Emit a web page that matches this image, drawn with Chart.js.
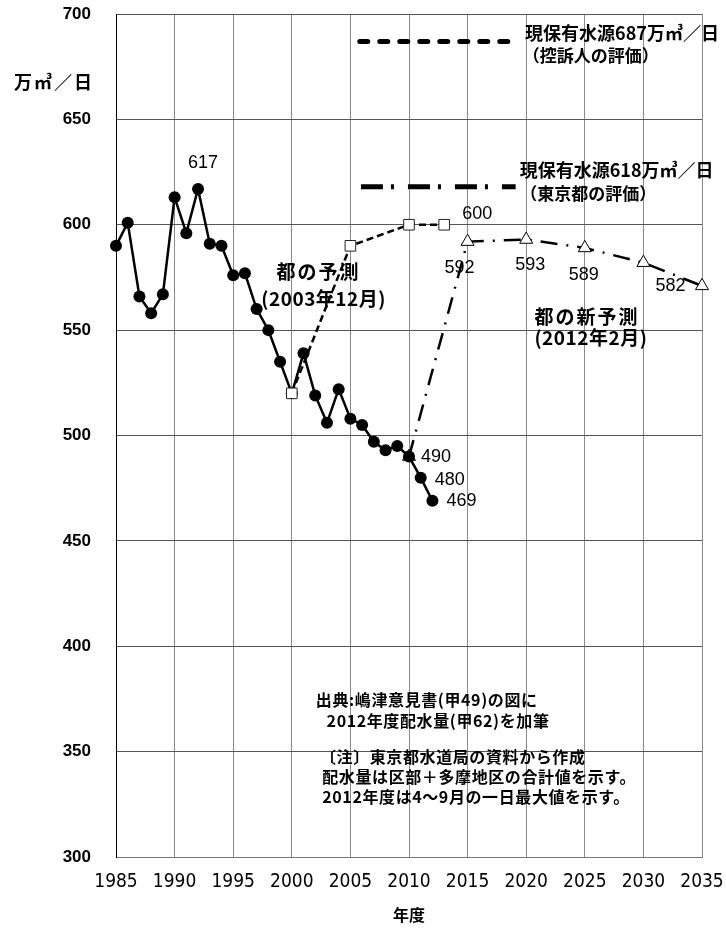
<!DOCTYPE html>
<html lang="ja">
<head>
<meta charset="utf-8">
<script src="https://cdn.jsdelivr.net/npm/chart.js@4.4.1/dist/chart.umd.min.js"></script>
<style>
  body { margin: 0; background: #fff; }
</style>
</head>
<body>
<canvas id="grafico" width="726" height="933"></canvas>
<script>
/* Datos */
const years = [1985, 1986, 1987, 1988, 1989, 1990, 1991, 1992, 1993, 1994,
  1995, 1996, 1997, 1998, 1999, 2000, 2001, 2002, 2003, 2004,
  2005, 2006, 2007, 2008, 2009, 2010, 2011, 2012];
const supply = [590, 601, 566, 558, 567, 613, 596, 617, 591, 590,
  576, 577, 560, 550, 535, 520, 539, 519, 506, 522,
  508, 505, 497, 493, 495, 490, 480, 469];

const forecastYears2003 = [2000, 2005, 2010, 2013];
const forecast2003 = [520, 590, 600, 600];

const forecastYears2012 = [2010, 2015, 2020, 2025, 2030, 2035];
const forecast2012 = [490, 592, 593, 589, 582, 571];

const appellantYears = [2005.8, 2019.4];
const appellantSource = [687, 687];
const tokyoYears = [2005.9, 2019.1];
const tokyoSource = [618, 618];

const xTicks = [1985, 1990, 1995, 2000, 2005, 2010, 2015, 2020, 2025, 2030, 2035];
const yTicks = [300, 350, 400, 450, 500, 550, 600, 650, 700];

const toPoints = (xs, ys) => xs.map((x, i) => ({ x, y: ys[i] }));

/* Textos del grafico (posicion en unidades de los ejes) */
const jpFont = '"Noto Sans CJK JP", sans-serif';
const captions = [
  { text: '現保有水源687万㎥／日', x: 2019.9, y: 690.8, kind: 'source' },
  { text: '（控訴人の評価）', x: 2019.7, y: 680.5, kind: 'paren' },
  { text: '現保有水源618万㎥／日', x: 2019.45, y: 626, kind: 'source' },
  { text: '（東京都の評価）', x: 2019.5, y: 614.9, kind: 'paren' },
  { text: '都の予測', x: 1998.7, y: 577.7, kind: 'title' },
  { text: '(2003年12月)', x: 1997.4, y: 565, kind: 'period' },
  { text: '都の新予測', x: 2020.7, y: 556.3, kind: 'title' },
  { text: '(2012年2月)', x: 2020.7, y: 546.2, kind: 'period' },
  { text: '出典:嶋津意見書(甲49)の図に', x: 2002.05, y: 374.4, kind: 'note' },
  { text: '2012年度配水量(甲62)を加筆', x: 2002.97, y: 364.4, kind: 'note' },
  { text: '〔注〕東京都水道局の資料から作成', x: 2002.4, y: 347.4, kind: 'note' },
  { text: '配水量は区部＋多摩地区の合計値を示す。', x: 2002.6, y: 337.9, kind: 'note' },
  { text: '2012年度は4〜9月の一日最大値を示す。', x: 2002.6, y: 328.4, kind: 'note' }
];

const captionStyles = {
  source: { font: 'bold 18px ' + jpFont, spacing: '0px' },
  paren: { font: 'bold 17px ' + jpFont, spacing: '0px' },
  title: { font: 'bold 19px ' + jpFont, spacing: '2px' },
  period: { font: 'bold 19px ' + jpFont, spacing: '0.5px' },
  note: { font: 'bold 16px ' + jpFont, spacing: '0.6px' }
};

/* Dibuja textos y etiquetas de valores */
const textPlugin = {
  id: 'textos',
  afterDatasetsDraw(chart) {
    const { ctx, scales: { x, y }, chartArea } = chart;
    ctx.save();
    ctx.fillStyle = '#000';
    ctx.textBaseline = 'middle';
    ctx.textAlign = 'left';

    captions.forEach(c => {
      const st = captionStyles[c.kind];
      ctx.font = st.font;
      ctx.letterSpacing = st.spacing;
      ctx.fillText(c.text, x.getPixelForValue(c.x), y.getPixelForValue(c.y));
    });
    ctx.letterSpacing = '0px';

    /* etiquetas numericas */
    ctx.font = '18px "Liberation Sans", Arial, sans-serif';
    const label = (xs, ys, yr, dx, dy, align) => {
      const i = xs.indexOf(yr);
      ctx.textAlign = align;
      ctx.fillText(String(ys[i]), x.getPixelForValue(yr) + dx, y.getPixelForValue(ys[i]) + dy);
    };
    label(years, supply, 1992, 5, -26, 'center');
    label(years, supply, 2010, 12, 0, 'left');
    label(years, supply, 2011, 14, 2, 'left');
    label(years, supply, 2012, 14, 0, 'left');
    label(forecastYears2003, forecast2003, 2013, 33, -11, 'center');
    label(forecastYears2012, forecast2012, 2015, -8, 26, 'center');
    label(forecastYears2012, forecast2012, 2020, 4, 26, 'center');
    label(forecastYears2012, forecast2012, 2025, -1, 27, 'center');
    label(forecastYears2012, forecast2012, 2030, 27, 23, 'center');

    /* titulos de ejes */
    ctx.font = 'bold 18px ' + jpFont;
    ctx.letterSpacing = '2px';
    ctx.textAlign = 'center';
    ctx.fillText('万㎥／日', chartArea.left - 62, 82);
    ctx.letterSpacing = '0px';
    ctx.font = 'bold 16px ' + jpFont;
    ctx.fillText('年度', (chartArea.left + chartArea.right) / 2, 915);
    ctx.restore();
  }
};

const noPad = s => { s.paddingLeft = 0; s.paddingRight = 0; s.paddingTop = 0; s.paddingBottom = 0; };

const config = {
  type: 'line',
  data: {
    datasets: [
      {
        label: '都の予測(2003年12月)',
        data: toPoints(forecastYears2003, forecast2003),
        borderColor: '#000',
        borderWidth: 2.5,
        borderDash: [7, 4],
        pointStyle: 'rect',
        pointRadius: 7.5,
        pointBackgroundColor: '#fff',
        pointBorderColor: '#222',
        pointBorderWidth: 1,
        order: 0
      },
      {
        label: '配水量',
        data: toPoints(years, supply),
        borderColor: '#000',
        borderWidth: 2.5,
        pointRadius: 6,
        pointBackgroundColor: '#000',
        pointBorderColor: '#000',
        pointBorderWidth: 0,
        clip: false,
        order: 1
      },
      {
        label: '都の新予測(2012年2月)',
        data: toPoints(forecastYears2012, forecast2012),
        borderColor: '#000',
        borderWidth: 2.5,
        borderDash: [17, 9, 2, 9],
        pointStyle: 'triangle',
        pointRadius: 7.5,
        pointBackgroundColor: '#fff',
        pointBorderColor: '#000',
        pointBorderWidth: 1,
        clip: false,
        order: 2
      },
      {
        label: '現保有水源687',
        data: toPoints(appellantYears, appellantSource),
        borderColor: '#000',
        borderWidth: 5,
        borderDash: [8, 12],
        borderCapStyle: 'round',
        pointRadius: 0,
        order: 3
      },
      {
        label: '現保有水源618',
        data: toPoints(tokyoYears, tokyoSource),
        borderColor: '#000',
        borderWidth: 5,
        borderDash: [22, 8, 3, 14],
        pointRadius: 0,
        order: 3
      }
    ]
  },
  options: {
    responsive: false,
    animation: false,
    devicePixelRatio: 1,
    layout: { padding: { left: 0, right: 24, top: 14, bottom: 0 } },
    plugins: {
      legend: { display: false },
      tooltip: { enabled: false }
    },
    scales: {
      x: {
        type: 'linear',
        min: 1985,
        max: 2035,
        afterBuildTicks: s => { s.ticks = xTicks.map(v => ({ value: v })); },
        afterFit: s => { s.height = 76; noPad(s); },
        grid: { color: '#8a8a8a', drawTicks: false },
        border: { color: '#777' },
        ticks: {
          padding: 14,
          color: '#000',
          font: { family: '"Liberation Sans Narrow", "DejaVu Sans Condensed", "Liberation Sans", sans-serif', size: 19 },
          callback: v => String(v)
        }
      },
      y: {
        min: 300,
        max: 700,
        afterBuildTicks: s => { s.ticks = yTicks.map(v => ({ value: v })); },
        afterFit: s => { s.width = 116; noPad(s); },
        grid: { color: '#555', drawTicks: false },
        border: { color: '#000' },
        ticks: {
          padding: 25,
          color: '#000',
          font: { family: '"Liberation Sans", Arial, sans-serif', size: 17, weight: 'bold' },
          callback: v => String(v)
        }
      }
    }
  },
  plugins: [textPlugin]
};

new Chart(document.getElementById('grafico').getContext('2d'), config);
</script>
</body>
</html>
